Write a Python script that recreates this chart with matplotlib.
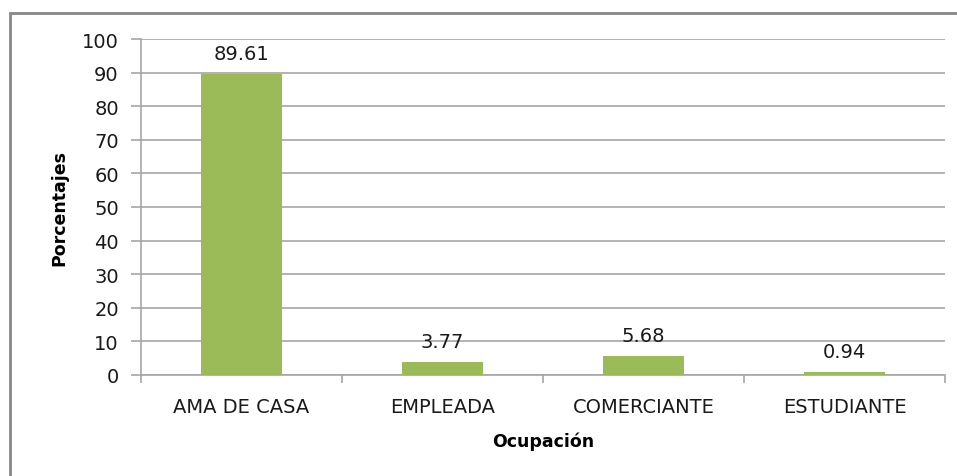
import matplotlib
matplotlib.use("Agg")
import matplotlib.pyplot as plt
from matplotlib.patches import Rectangle

categories = ["AMA DE CASA", "EMPLEADA", "COMERCIANTE", "ESTUDIANTE"]
values = [89.61, 3.77, 5.68, 0.94]
labels = ["89.61", "3.77", "5.68", "0.94"]
yticks = [0, 10, 20, 30, 40, 50, 60, 70, 80, 90, 100]

W, H = 957, 477
fig = plt.figure(figsize=(W / 100, H / 100), dpi=100)
plt.rcParams['font.family'] = ['DejaVu Sans']

ax = fig.add_axes([141 / W, 1 - 376 / H, (945 - 141) / W, (376 - 40) / H])

x = list(range(len(categories)))
ax.bar(x, values, width=0.4, color="#9BBB59", zorder=3)
ax.set_xlim(-0.5, len(categories) - 0.5)
ax.set_ylim(0, 100)
ax.set_yticks(yticks)
ax.yaxis.grid(True, color="#A6A6A6", linewidth=1.2, zorder=0)
ax.set_axisbelow(True)

for xi, v, lab in zip(x, values, labels):
    ax.annotate(lab, (xi, v), xytext=(0, 15), textcoords="offset points",
                ha="center", va="center", fontsize=14, color="#1a1a1a")

ax.set_xticks(x)
ax.set_xticklabels(categories, fontsize=14, color="#1a1a1a")
ax.set_xticks([i - 0.5 for i in range(len(categories) + 1)], minor=True)
ax.tick_params(axis="x", which="major", length=0, pad=16)
ax.tick_params(axis="x", which="minor", length=6, color="#A6A6A6", width=1.2)
ax.tick_params(axis="y", length=7, color="#A6A6A6", width=1.2, labelsize=14,
               labelcolor="#1a1a1a", pad=9)

for s in ["top", "right"]:
    ax.spines[s].set_visible(False)
ax.spines["left"].set_color("#A6A6A6")
ax.spines["bottom"].set_color("#A6A6A6")
ax.spines["left"].set_linewidth(1.2)
ax.spines["bottom"].set_linewidth(1.2)

ax.set_ylabel("Porcentajes", fontsize=12.5, fontweight="bold", labelpad=10)
ax.set_xlabel("Ocupación", fontsize=12.5, fontweight="bold", labelpad=11)

fig.patches.append(Rectangle((10 / W, -0.1), 1.2, 1 + 0.1 - 14 / H,
                             transform=fig.transFigure, fill=False,
                             edgecolor="#878787", linewidth=2))

fig.savefig("out.png", dpi=100)
